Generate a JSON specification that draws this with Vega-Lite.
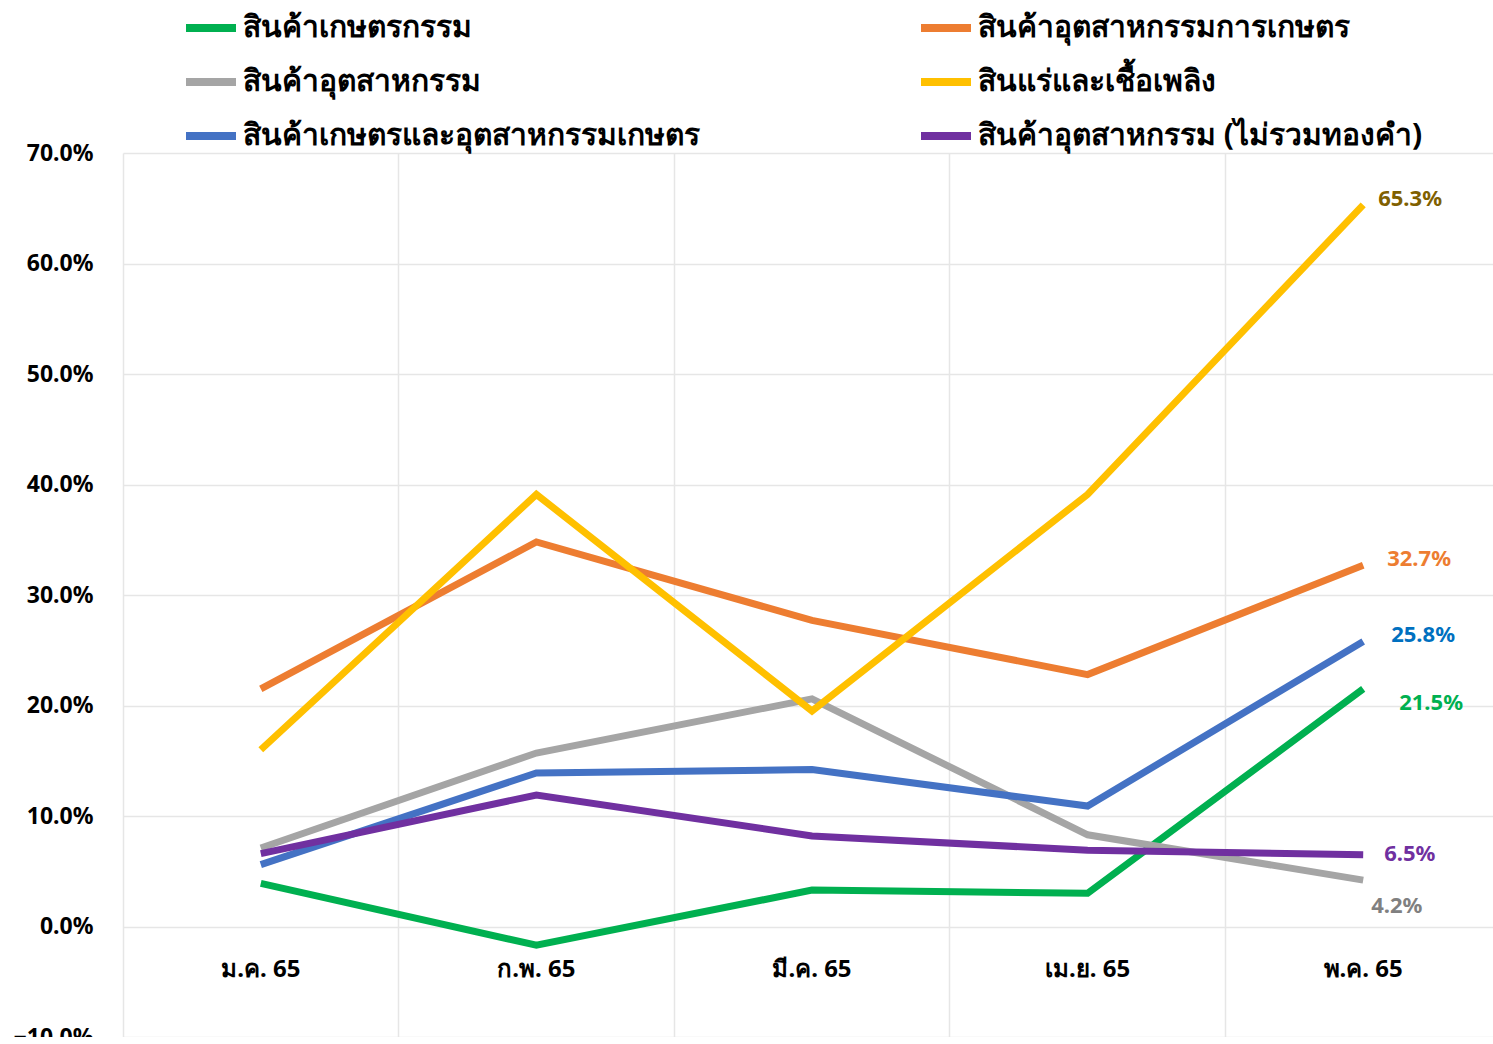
{
  "$schema": "https://vega.github.io/schema/vega-lite/v6.json",
  "autosize": "none",
  "width": 1378,
  "height": 884,
  "padding": {"left": 123, "top": 153, "right": 0, "bottom": 0},
  "background": "white",
  "config": {
    "view": {"stroke": null},
    "font": "Noto Sans",
    "axis": {"gridColor": "#e6e6e6", "gridWidth": 1.5}
  },
  "datasets": {
    "lines": [
      {"series": "สินค้าเกษตรกรรม", "month": "ม.ค. 65", "value": 3.9},
      {"series": "สินค้าเกษตรกรรม", "month": "ก.พ. 65", "value": -1.7},
      {"series": "สินค้าเกษตรกรรม", "month": "มี.ค. 65", "value": 3.3},
      {"series": "สินค้าเกษตรกรรม", "month": "เม.ย. 65", "value": 3.0},
      {"series": "สินค้าเกษตรกรรม", "month": "พ.ค. 65", "value": 21.5},
      {"series": "สินค้าอุตสาหกรรมการเกษตร", "month": "ม.ค. 65", "value": 21.5},
      {"series": "สินค้าอุตสาหกรรมการเกษตร", "month": "ก.พ. 65", "value": 34.8},
      {"series": "สินค้าอุตสาหกรรมการเกษตร", "month": "มี.ค. 65", "value": 27.7},
      {"series": "สินค้าอุตสาหกรรมการเกษตร", "month": "เม.ย. 65", "value": 22.8},
      {"series": "สินค้าอุตสาหกรรมการเกษตร", "month": "พ.ค. 65", "value": 32.7},
      {"series": "สินค้าอุตสาหกรรม", "month": "ม.ค. 65", "value": 7.1},
      {"series": "สินค้าอุตสาหกรรม", "month": "ก.พ. 65", "value": 15.7},
      {"series": "สินค้าอุตสาหกรรม", "month": "มี.ค. 65", "value": 20.6},
      {"series": "สินค้าอุตสาหกรรม", "month": "เม.ย. 65", "value": 8.3},
      {"series": "สินค้าอุตสาหกรรม", "month": "พ.ค. 65", "value": 4.2},
      {"series": "สินแร่และเชื้อเพลิง", "month": "ม.ค. 65", "value": 16.0},
      {"series": "สินแร่และเชื้อเพลิง", "month": "ก.พ. 65", "value": 39.1},
      {"series": "สินแร่และเชื้อเพลิง", "month": "มี.ค. 65", "value": 19.5},
      {"series": "สินแร่และเชื้อเพลิง", "month": "เม.ย. 65", "value": 39.1},
      {"series": "สินแร่และเชื้อเพลิง", "month": "พ.ค. 65", "value": 65.3},
      {"series": "สินค้าเกษตรและอุตสาหกรรมเกษตร", "month": "ม.ค. 65", "value": 5.6},
      {"series": "สินค้าเกษตรและอุตสาหกรรมเกษตร", "month": "ก.พ. 65", "value": 13.9},
      {"series": "สินค้าเกษตรและอุตสาหกรรมเกษตร", "month": "มี.ค. 65", "value": 14.2},
      {"series": "สินค้าเกษตรและอุตสาหกรรมเกษตร", "month": "เม.ย. 65", "value": 10.9},
      {"series": "สินค้าเกษตรและอุตสาหกรรมเกษตร", "month": "พ.ค. 65", "value": 25.8},
      {"series": "สินค้าอุตสาหกรรม (ไม่รวมทองคำ)", "month": "ม.ค. 65", "value": 6.6},
      {"series": "สินค้าอุตสาหกรรม (ไม่รวมทองคำ)", "month": "ก.พ. 65", "value": 11.9},
      {"series": "สินค้าอุตสาหกรรม (ไม่รวมทองคำ)", "month": "มี.ค. 65", "value": 8.2},
      {"series": "สินค้าอุตสาหกรรม (ไม่รวมทองคำ)", "month": "เม.ย. 65", "value": 6.9},
      {"series": "สินค้าอุตสาหกรรม (ไม่รวมทองคำ)", "month": "พ.ค. 65", "value": 6.5}
    ],
    "months": [
      {"month": "ม.ค. 65"}, {"month": "ก.พ. 65"}, {"month": "มี.ค. 65"}, {"month": "เม.ย. 65"}, {"month": "พ.ค. 65"}
    ]
  },
  "encoding": {
    "x": {
      "field": "month", "type": "nominal",
      "sort": ["ม.ค. 65", "ก.พ. 65", "มี.ค. 65", "เม.ย. 65", "พ.ค. 65"],
      "scale": {"type": "band", "paddingInner": 0, "paddingOuter": 0},
      "axis": {"title": null, "labels": false, "ticks": false, "domain": false, "grid": true, "bandPosition": 0}
    }
  },
  "layer": [
    {
      "data": {"name": "lines"},
      "mark": {"type": "line", "strokeWidth": 7, "strokeCap": "butt", "strokeJoin": "miter"},
      "encoding": {
        "y": {
          "field": "value", "type": "quantitative",
          "scale": {"domain": [-10, 70], "nice": false, "zero": false},
          "axis": {"title": null, "values": [-10, 0, 10, 20, 30, 40, 50, 60, 70], "labelOverlap": false, "labelExpr": "format(datum.value, '.1f') + '%'", "labelFontSize": 23, "labelFontWeight": "bold", "labelColor": "#000000", "labelPadding": 30, "ticks": false, "domain": false, "grid": true}
        },
        "color": {
          "field": "series", "type": "nominal",
          "scale": {
            "domain": ["สินค้าเกษตรกรรม", "สินค้าอุตสาหกรรม", "สินค้าเกษตรและอุตสาหกรรมเกษตร", "สินค้าอุตสาหกรรมการเกษตร", "สินแร่และเชื้อเพลิง", "สินค้าอุตสาหกรรม (ไม่รวมทองคำ)"],
            "range": ["#00b050", "#a5a5a5", "#4472c4", "#ed7d31", "#ffc000", "#7030a0"]
          },
          "legend": {
            "title": null, "orient": "none", "legendX": 59, "legendY": -154,
            "columns": 2, "columnPadding": 205, "rowPadding": 9,
            "symbolType": "stroke", "symbolSize": 2500, "symbolStrokeWidth": 8,
            "labelFontSize": 30, "labelFontWeight": "bold", "labelColor": "#000000", "labelOffset": 3, "labelLimit": 700
          }
        }
      }
    },
    {
      "data": {"name": "months"},
      "mark": {"type": "text", "dy": 43, "fontSize": 24, "fontWeight": "bold", "color": "#000000"},
      "encoding": {"y": {"datum": 0}, "text": {"field": "month"}}
    },
    {
      "data": {"name": "lines"},
      "transform": [{"filter": "datum.month === 'พ.ค. 65' && datum.series === 'สินแร่และเชื้อเพลิง'"}, {"calculate": "format(datum.value, '.1f') + '%'", "as": "label"}],
      "mark": {"type": "text", "align": "left", "dx": 15, "dy": -6, "fontSize": 22, "fontWeight": "bold", "color": "#7f6000"},
      "encoding": {"y": {"field": "value", "type": "quantitative"}, "text": {"field": "label"}}
    },
    {
      "data": {"name": "lines"},
      "transform": [{"filter": "datum.month === 'พ.ค. 65' && datum.series === 'สินค้าอุตสาหกรรมการเกษตร'"}, {"calculate": "format(datum.value, '.1f') + '%'", "as": "label"}],
      "mark": {"type": "text", "align": "left", "dx": 24, "dy": -6, "fontSize": 22, "fontWeight": "bold", "color": "#ed7d31"},
      "encoding": {"y": {"field": "value", "type": "quantitative"}, "text": {"field": "label"}}
    },
    {
      "data": {"name": "lines"},
      "transform": [{"filter": "datum.month === 'พ.ค. 65' && datum.series === 'สินค้าเกษตรและอุตสาหกรรมเกษตร'"}, {"calculate": "format(datum.value, '.1f') + '%'", "as": "label"}],
      "mark": {"type": "text", "align": "left", "dx": 28, "dy": -6, "fontSize": 22, "fontWeight": "bold", "color": "#0070c0"},
      "encoding": {"y": {"field": "value", "type": "quantitative"}, "text": {"field": "label"}}
    },
    {
      "data": {"name": "lines"},
      "transform": [{"filter": "datum.month === 'พ.ค. 65' && datum.series === 'สินค้าเกษตรกรรม'"}, {"calculate": "format(datum.value, '.1f') + '%'", "as": "label"}],
      "mark": {"type": "text", "align": "left", "dx": 36, "dy": 14, "fontSize": 22, "fontWeight": "bold", "color": "#00b050"},
      "encoding": {"y": {"field": "value", "type": "quantitative"}, "text": {"field": "label"}}
    },
    {
      "data": {"name": "lines"},
      "transform": [{"filter": "datum.month === 'พ.ค. 65' && datum.series === 'สินค้าอุตสาหกรรม (ไม่รวมทองคำ)'"}, {"calculate": "format(datum.value, '.1f') + '%'", "as": "label"}],
      "mark": {"type": "text", "align": "left", "dx": 21, "dy": -1, "fontSize": 22, "fontWeight": "bold", "color": "#7030a0"},
      "encoding": {"y": {"field": "value", "type": "quantitative"}, "text": {"field": "label"}}
    },
    {
      "data": {"name": "lines"},
      "transform": [{"filter": "datum.month === 'พ.ค. 65' && datum.series === 'สินค้าอุตสาหกรรม'"}, {"calculate": "format(datum.value, '.1f') + '%'", "as": "label"}],
      "mark": {"type": "text", "align": "left", "dx": 8, "dy": 26, "fontSize": 22, "fontWeight": "bold", "color": "#808080"},
      "encoding": {"y": {"field": "value", "type": "quantitative"}, "text": {"field": "label"}}
    }
  ]
}
